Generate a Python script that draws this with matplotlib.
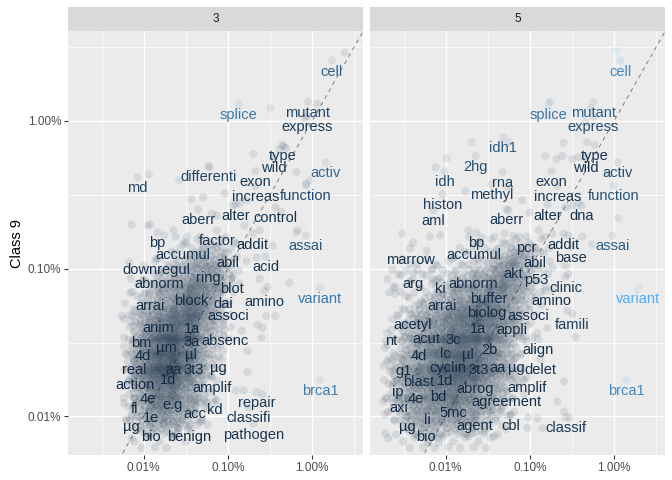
import numpy as np
import matplotlib
matplotlib.use("Agg")
import matplotlib.pyplot as plt
from matplotlib.colors import ListedColormap, Normalize

# ---------------- data ----------------
facets = ["3", "5"]
ylabel = "Class 9"

# labelled words: proportion in the facet class (x) and in Class 9 (y)
words_3 = ["cell", "splice", "mutant", "express", "type", "wild", "activ", "differenti", "md",
           "exon", "increas", "function", "aberr", "alter", "control", "bp", "factor", "addit",
           "assai", "accumul", "abil", "acid", "downregul", "abnorm", "ring", "blot", "variant",
           "block", "dai", "amino", "arrai", "associ", "anim", "1a", "bm", "µm", "3a", "absenc",
           "4d", "µl", "real", "aa", "3t3", "µg", "1d", "action", "amplif", "brca1", "4e", "e.g",
           "fl", "acc", "kd", "repair", "1e", "classifi", "µg", "bio", "benign", "pathogen"]
x_3 = [1.72e-2, 1.35e-3, 8.97e-3, 8.73e-3, 4.44e-3, 3.48e-3, 1.46e-2, 5.97e-4, 8.5e-5,
       2.13e-3, 2.13e-3, 8.49e-3, 4.44e-4, 1.24e-3, 3.67e-3, 1.46e-4, 7.43e-4, 1.97e-3,
       8.49e-3, 2.96e-4, 1.0e-3, 2.80e-3, 1.42e-4, 1.54e-4, 5.82e-4, 1.11e-3, 1.24e-2,
       3.67e-4, 8.73e-4, 2.72e-3, 1.18e-4, 1.0e-3, 1.50e-4, 3.77e-4, 9.47e-5, 1.87e-4, 3.67e-4, 9.22e-4,
       9.73e-5, 3.67e-4, 7.83e-5, 2.25e-4, 3.98e-4, 7.83e-4, 1.97e-4, 7.83e-5, 6.49e-4, 1.24e-2, 1.11e-4, 2.19e-4,
       7.83e-5, 4.09e-4, 7.03e-4, 2.19e-3, 1.24e-4, 1.77e-3, 7.22e-5, 1.21e-4, 3.47e-4, 2.02e-3]
y_3 = [2.56e-2, 1.31e-2, 1.35e-2, 1.08e-2, 6.87e-3, 5.69e-3, 5.26e-3, 4.94e-3, 4.16e-3,
       4.57e-3, 3.61e-3, 3.67e-3, 2.52e-3, 2.72e-3, 2.60e-3, 1.76e-3, 1.82e-3, 1.73e-3,
       1.68e-3, 1.46e-3, 1.29e-3, 1.21e-3, 1.17e-3, 9.4e-4, 1.02e-3, 8.69e-4, 7.43e-4,
       7.19e-4, 6.87e-4, 7.08e-4, 6.65e-4, 5.69e-4, 4.71e-4, 4.64e-4, 3.73e-4, 3.44e-4, 3.79e-4, 3.85e-4,
       3.04e-4, 3.09e-4, 2.44e-4, 2.44e-4, 2.44e-4, 2.52e-4, 2.09e-4, 1.93e-4, 1.84e-4, 1.76e-4, 1.55e-4, 1.41e-4,
       1.33e-4, 1.23e-4, 1.31e-4, 1.46e-4, 1.15e-4, 1.15e-4, 1.0e-4, 8.55e-5, 8.55e-5, 8.95e-5]

words_5 = ["cell", "splice", "mutant", "express", "idh1", "type", "2hg", "wild", "activ", "idh",
           "rna", "exon", "methyl", "increas", "function", "histon", "alter", "dna", "aml", "aberr",
           "bp", "pcr", "addit", "assai", "marrow", "accumul", "base", "abil", "akt", "p53", "arg",
           "abnorm", "ki", "clinic", "variant", "buffer", "amino", "arrai", "biolog", "associ",
           "famili", "acetyl", "1a", "appli", "nt", "acut", "3c", "2b", "align", "4d", "lc", "µl",
           "g1", "cyclin", "3t3", "aa", "µg", "delet", "blast", "1d", "abrog", "amplif", "brca1",
           "ip", "4e", "bd", "agreement", "axi", "5mc", "li", "µg", "agent", "cbl", "classif", "bio"]
x_5 = [1.19e-2, 1.66e-3, 5.69e-3, 5.69e-3, 4.85e-4, 5.85e-3, 2.26e-4, 4.57e-3, 1.10e-2, 9.7e-5,
       4.73e-4, 1.81e-3, 3.5e-4, 2.13e-3, 9.84e-3, 9.16e-5, 1.62e-3, 4.1e-3, 7.16e-5, 5.27e-4,
       2.32e-4, 9.12e-4, 2.51e-3, 9.57e-3, 3.82e-5, 2.14e-4, 3.12e-3, 1.14e-3, 6.38e-4, 1.2e-3, 4.15e-5,
       2.14e-4, 8.67e-5, 2.65e-3, 1.95e-2, 3.22e-4, 1.81e-3, 9.16e-5, 3.05e-4, 9.61e-4,
       3.21e-3, 4.03e-5, 2.45e-4, 6.2e-4, 2.27e-5, 5.92e-5, 1.24e-4, 3.31e-4, 1.26e-3, 4.75e-5, 9.95e-5, 1.82e-4,
       3.15e-5, 1.05e-4, 2.45e-4, 4.12e-4, 6.93e-4, 1.34e-3, 4.75e-5, 9.95e-5, 2.26e-4, 9.35e-4, 1.40e-2,
       2.68e-5, 4.38e-5, 8.2e-5, 5.27e-4, 2.75e-5, 1.24e-4, 6.08e-5, 3.52e-5, 2.2e-4, 5.89e-4, 2.65e-3, 5.75e-5]
y_5 = [2.56e-2, 1.31e-2, 1.35e-2, 1.08e-2, 7.78e-3, 6.87e-3, 5.78e-3, 5.69e-3, 5.26e-3, 4.57e-3,
       4.50e-3, 4.57e-3, 3.73e-3, 3.61e-3, 3.67e-3, 3.19e-3, 2.72e-3, 2.68e-3, 2.48e-3, 2.52e-3,
       1.76e-3, 1.65e-3, 1.73e-3, 1.68e-3, 1.37e-3, 1.46e-3, 1.41e-3, 1.29e-3, 1.10e-3, 1.0e-3, 9.4e-4,
       9.4e-4, 8.69e-4, 8.83e-4, 7.43e-4, 7.43e-4, 7.19e-4, 6.65e-4, 5.97e-4, 5.69e-4,
       4.94e-4, 4.94e-4, 4.64e-4, 4.57e-4, 3.85e-4, 3.97e-4, 3.91e-4, 3.34e-4, 3.34e-4, 3.04e-4, 3.14e-4, 3.09e-4,
       2.40e-4, 2.52e-4, 2.44e-4, 2.52e-4, 2.52e-4, 2.44e-4, 2.02e-4, 2.06e-4, 1.82e-4, 1.84e-4, 1.76e-4,
       1.73e-4, 1.55e-4, 1.60e-4, 1.48e-4, 1.35e-4, 1.26e-4, 1.12e-4, 1.0e-4, 1.02e-4, 1.02e-4, 9.84e-5, 8.55e-5]

# unlabelled words, read individually (outside the dense core)
other_x_3 = [3.2e-3, 2.44e-2, 1.15e-2, 8.3e-3, 2.0e-3, 4.6e-3, 4.1e-3, 4.9e-3, 1.15e-4, 2.65e-4,
             6.0e-4, 6.5e-3, 8.5e-3, 9.5e-3, 5.1e-4, 3.7e-4, 9.2e-4, 7.2e-5, 1.11e-4, 1.21e-4,
             2.25e-4, 1.77e-4, 3.3e-4, 6.5e-4, 7.4e-4, 1.15e-3, 1.38e-3, 1.67e-3, 4.3e-3, 6.8e-3,
             6.5e-3, 3.4e-3, 2.38e-3, 1.58e-3, 6.7e-5, 7.0e-5, 6.9e-5, 5.4e-3, 2.96e-3, 2.38e-3,
             1.67e-3, 2.19e-3, 5.5e-5, 2.88e-3, 3.67e-3, 2.25e-3, 2.58e-3, 2.5e-3, 1.46e-3, 1.72e-3,
             8.7e-4, 1.72e-3, 1.24e-3, 1.54e-3, 2.58e-3, 5.66e-4, 7.4e-4, 4.7e-4, 5.8e-4, 2.5e-4,
             1.72e-4, 6.9e-5, 7.2e-5, 5.8e-5, 6.5e-5, 6.5e-5, 5.8e-5]
other_y_3 = [1.22e-2, 2.9e-2, 1.31e-2, 1.05e-2, 5.97e-3, 6.76e-3, 6.45e-3, 6.55e-3, 4.36e-3, 3.97e-3,
             4.87e-3, 4.5e-3, 3.78e-3, 3.97e-3, 3.04e-3, 2.94e-3, 3.24e-3, 1.99e-3, 1.96e-3, 1.99e-3,
             1.82e-3, 1.68e-3, 1.65e-3, 2.37e-3, 2.29e-3, 2.68e-3, 2.77e-3, 2.9e-3, 2.44e-3, 1.82e-3,
             1.76e-3, 1.43e-3, 1.82e-3, 1.96e-3, 1.1e-3, 8.55e-4, 6.87e-4, 8.0e-4, 7.55e-4, 8.55e-4,
             1.13e-3, 1.19e-3, 4.79e-4, 4.79e-4, 4.79e-4, 4.16e-4, 3.97e-4, 3.4e-4, 3.79e-4, 2.77e-4,
             2.77e-4, 1.99e-4, 1.5e-4, 1.5e-4, 1.41e-4, 1.26e-4, 1.28e-4, 9.2e-5, 8.8e-5, 8.4e-5,
             8.95e-5, 9.5e-5, 7.1e-5, 2.99e-4, 2.37e-4, 1.73e-4, 1.33e-4]

other_x_5 = [1.06e-2, 1.75e-3, 5.3e-3, 4.6e-3, 2.04e-4, 5.6e-4, 2.5e-3, 4.8e-3, 1.03e-4, 1.53e-3,
             2.43e-3, 3.8e-3, 2.08e-3, 7.6e-5, 3.2e-3, 8.5e-3, 1.72e-4, 5.6e-4, 8.1e-4, 9.9e-4,
             5.6e-4, 2.64e-3, 3.2e-3, 3.8e-3, 1.12e-2, 8.6e-5, 6.5e-5, 1.87e-4, 2.66e-4, 5.0e-4,
             6.4e-4, 1.28e-3, 1.85e-3, 2.86e-3, 4.2e-3, 5.5e-3, 3.05e-5, 4.1e-5, 6.0e-5, 4.6e-5,
             2.73e-5, 2.52e-5, 7.0e-5, 7.0e-5, 3.6e-4, 1.85e-3, 2.64e-3, 2.86e-3, 1.53e-3, 3.5e-3,
             2.78e-3, 1.62e-3, 1.23e-3, 2.55e-3, 2.13e-3, 2.55e-3, 2.94e-3, 1.42e-3, 9.4e-4, 1.23e-3,
             9.6e-4, 8.1e-4, 1.93e-5, 2.09e-5, 1.82e-5, 2.02e-5, 1.93e-5, 2.73e-5]
other_y_5 = [2.99e-2, 1.35e-2, 1.22e-2, 9.8e-3, 7.2e-3, 7.2e-3, 7.1e-3, 7.2e-3, 5.6e-3, 5.8e-3,
             5.8e-3, 5.7e-3, 5.5e-3, 4.87e-3, 5.5e-3, 4.4e-3, 3.34e-3, 3.56e-3, 2.9e-3, 2.4e-3,
             2.48e-3, 2.6e-3, 2.68e-3, 2.77e-3, 2.19e-3, 1.68e-3, 1.65e-3, 1.82e-3, 1.63e-3, 1.73e-3,
             1.68e-3, 1.82e-3, 1.73e-3, 1.68e-3, 1.65e-3, 1.46e-3, 1.73e-3, 1.5e-3, 1.32e-3, 1.08e-3,
             9.2e-4, 6.76e-4, 1.0e-3, 8.55e-4, 1.0e-3, 1.02e-3, 1.05e-3, 9.2e-4, 7.1e-4, 3.44e-4,
             5.2e-4, 3.97e-4, 3.67e-4, 1.73e-4, 1.26e-4, 1.08e-4, 9.84e-5, 8.3e-5, 8.4e-5, 9.7e-5,
             9.84e-5, 1.79e-4, 7.66e-5, 7.1e-5, 1.26e-4, 2.37e-4, 3.24e-4, 4.79e-4]

# dense core of unlabelled words: counts of words per (x, y) cell
core_y = [1.58e-3, 1.41e-3, 1.26e-3, 1.12e-3, 1.0e-3, 8.9e-4, 7.9e-4, 7.1e-4, 6.3e-4, 5.6e-4,
          5.0e-4, 4.5e-4, 4.0e-4, 3.5e-4, 3.2e-4, 2.8e-4, 2.5e-4, 2.2e-4, 2.0e-4, 1.8e-4,
          1.6e-4, 1.4e-4, 1.26e-4, 1.12e-4, 1.0e-4, 8.9e-5, 7.9e-5, 7.1e-5, 6.3e-5, 5.6e-5]
core_x_3 = [5.0e-5, 6.3e-5, 7.9e-5, 1.0e-4, 1.26e-4, 1.58e-4, 2.0e-4, 2.5e-4, 3.2e-4, 4.0e-4,
            5.0e-4, 6.3e-4, 7.9e-4, 1.0e-3, 1.26e-3]
core_n_3 = ["000000011111111", "000000011133311", "000000111333311", "000011133555531",
            "000111335566531", "000113355666531", "001133556886531", "001135568886511",
            "00133568aa86310", "01135568aa85310", "0133568aba85310", "013568abba65310",
            "01358abdba65310", "01368bddba63310", "0156abddb853110", "0158adedb853100",
            "0158bdedb853100", "0158bdeda653100", "0158bddba651100", "0158abdb8631100",
            "0156abba8531000", "01368aa86531000", "013588886531000", "013568865311000",
            "013566655310000", "011355553110000", "001333331100000", "001111111000000",
            "000110100000000", "000000000000000"]
core_x_5 = [2.0e-5, 2.5e-5, 3.2e-5, 4.0e-5, 5.0e-5, 6.3e-5, 7.9e-5, 1.0e-4, 1.26e-4, 1.58e-4,
            2.0e-4, 2.5e-4, 3.2e-4, 4.0e-4, 5.0e-4, 6.3e-4, 7.9e-4, 1.0e-3, 1.26e-3, 1.58e-3]
core_n_5 = ["00000000001111111111", "00000000011111133311", "00000000111113355311",
            "00110111111133565311", "01101111113335665311", "10111111333556865311",
            "01111113355568865311", "11111133556688865310", "00111335566888653310",
            "00113355688aa8653110", "0113355688aaa8653110", "011355688aaba8653100",
            "01335688aabba8653100", "1135568aabbba8533100", "1135688abbbba6531100",
            "113568abbbba86531100", "133568abbdba86531000", "135568abbdba86531000",
            "135668abbbba86531000", "135688abbba865331000", "135688aaaa8865311000",
            "1356688aa88655311000", "13556688886653310000", "13355668866553110000",
            "11355566665533110000", "01335555555331100000", "01133333333311100000",
            "00111331111111000000", "00011111011010000000", "00000000000000000000"]

x_ticks = [1e-4, 1e-3, 1e-2]
x_ticklabels = ["0.01%", "0.10%", "1.00%"]
y_ticks = [1e-2, 1e-3, 1e-4]
y_ticklabels = ["1.00%", "0.10%", "0.01%"]

# ---------------- colour scale (ggplot default gradient, Lab interpolation) ----------------
def _hex(h):
    h = h.lstrip("#")
    return np.array([int(h[i:i + 2], 16) / 255 for i in (0, 2, 4)])

_M = np.array([[0.4124564, 0.3575761, 0.1804375],
               [0.2126729, 0.7151522, 0.0721750],
               [0.0193339, 0.1191920, 0.9503041]])
_W = np.array([0.95047, 1.0, 1.08883])

def rgb2lab(c):
    lin = np.where(c <= 0.04045, c / 12.92, ((c + 0.055) / 1.055) ** 2.4)
    xyz = _M @ lin / _W
    f = np.where(xyz > 0.008856, np.cbrt(xyz), 7.787 * xyz + 16 / 116)
    return np.array([116 * f[1] - 16, 500 * (f[0] - f[1]), 200 * (f[1] - f[2])])

def lab2rgb(lab):
    fy = (lab[0] + 16) / 116
    fx = fy + lab[1] / 500
    fz = fy - lab[2] / 200
    f = np.array([fx, fy, fz])
    xyz = np.where(f ** 3 > 0.008856, f ** 3, (f - 16 / 116) / 7.787) * _W
    lin = np.linalg.solve(_M, xyz)
    c = np.where(lin <= 0.0031308, 12.92 * lin, 1.055 * np.clip(lin, 0, None) ** (1 / 2.4) - 0.055)
    return np.clip(c, 0, 1)

lo, hi = rgb2lab(_hex("#132B43")), rgb2lab(_hex("#56B1F7"))
cmap = ListedColormap([lab2rgb(lo + (hi - lo) * t) for t in np.linspace(0, 1, 256)])

# ---------------- build point sets ----------------
def core_points(cx, cy, counts):
    xs, ys = [], []
    golden = np.pi * (3 - np.sqrt(5))
    for i, row in enumerate(counts):
        for j, ch in enumerate(row):
            n = int(ch, 16)
            for k in range(n):
                r = 0.6 if n == 1 else np.sqrt((k + 0.5) / n)
                a = k * golden + (i * 5 + j * 3) * 0.7
                xs.append(cx[j] * 10 ** (0.06 * r * np.cos(a)))
                ys.append(cy[i] * 10 ** (0.035 * r * np.sin(a)))
    return np.array(xs), np.array(ys)

panels = []
for wx, xv, yv, ox, oy, cx, cn in [
        (words_3, x_3, y_3, other_x_3, other_y_3, core_x_3, core_n_3),
        (words_5, x_5, y_5, other_x_5, other_y_5, core_x_5, core_n_5)]:
    kx, ky = core_points(cx, core_y, cn)
    px = np.concatenate([kx, np.array(ox), np.array(xv)])
    py = np.concatenate([ky, np.array(oy), np.array(yv)])
    panels.append((wx, np.array(xv), np.array(yv), px, py))

alld = np.concatenate([np.abs(p[4] - p[3]) for p in panels])
norm = Normalize(vmin=alld.min(), vmax=alld.max())

# ---------------- figure ----------------
W, H = 672, 480
fig = plt.figure(figsize=(W / 96, H / 96), dpi=96)
font = "Liberation Sans"
plt.rcParams["font.family"] = [font, "DejaVu Sans"]

xlim = (10 ** -4.898, 10 ** -1.398)
ylim = (10 ** -4.261, 10 ** -1.391)
pw = 294.7
lefts = [68, 370]
top, bottom = 31, 455

for idx, (wx, xv, yv, px, py) in enumerate(panels):
    L = lefts[idx]
    ax = fig.add_axes([L / W, 1 - bottom / H, pw / W, (bottom - top) / H])
    ax.set_facecolor("#EBEBEB")
    ax.set_xscale("log")
    ax.set_yscale("log")
    ax.set_xlim(*xlim)
    ax.set_ylim(*ylim)
    for s in ax.spines.values():
        s.set_visible(False)
    # grid
    for v in [10 ** -4.5, 10 ** -3.5, 10 ** -2.5, 10 ** -1.5]:
        ax.axvline(v, color="white", lw=0.55, zorder=0)
    for v in [10 ** -1.5, 10 ** -2.5, 10 ** -3.5]:
        ax.axhline(v, color="white", lw=0.55, zorder=0)
    for v in x_ticks:
        ax.axvline(v, color="white", lw=1.07, zorder=0)
    for v in y_ticks:
        ax.axhline(v, color="white", lw=1.07, zorder=0)
    ax.minorticks_off()
    ax.set_xticks(x_ticks)
    ax.set_xticklabels(x_ticklabels, fontsize=8.8, color="#4D4D4D")
    ax.tick_params(axis="x", length=2.75, width=0.8, color="#333333", pad=2.2)
    if idx == 0:
        ax.set_yticks(y_ticks)
        ax.set_yticklabels(y_ticklabels, fontsize=8.8, color="#4D4D4D")
        ax.tick_params(axis="y", length=2.75, width=0.8, color="#333333", pad=2.2)
    else:
        ax.set_yticks([])
    # diagonal
    ax.plot([1e-6, 1], [1e-6, 1], color="#666666", lw=0.6, ls=(0, (5, 5)), zorder=1)
    # points
    cols = cmap(norm(np.abs(py - px)))
    ax.scatter(px, py, s=38, c=cols, alpha=0.1, linewidths=0, zorder=2)
    # labels
    for w, x, y in zip(wx, xv, yv):
        ax.annotate(w, (x, y), xytext=(0, -8.25), textcoords="offset points",
                    ha="center", va="center", fontsize=11, family=font,
                    color=cmap(norm(abs(y - x))), zorder=3, annotation_clip=False)
    # strip
    sax = fig.add_axes([L / W, 1 - 31 / H, pw / W, 24 / H])
    sax.set_facecolor("#D9D9D9")
    sax.set_xticks([])
    sax.set_yticks([])
    for s in sax.spines.values():
        s.set_visible(False)
    sax.text(0.5, 0.5, facets[idx], ha="center", va="center", fontsize=8.8,
             color="#1A1A1A", transform=sax.transAxes)

fig.text(17 / W, 1 - 243 / H, ylabel, rotation=90, ha="center", va="center",
         fontsize=11, color="black")

fig.savefig("out.png", dpi=96, facecolor="white")
